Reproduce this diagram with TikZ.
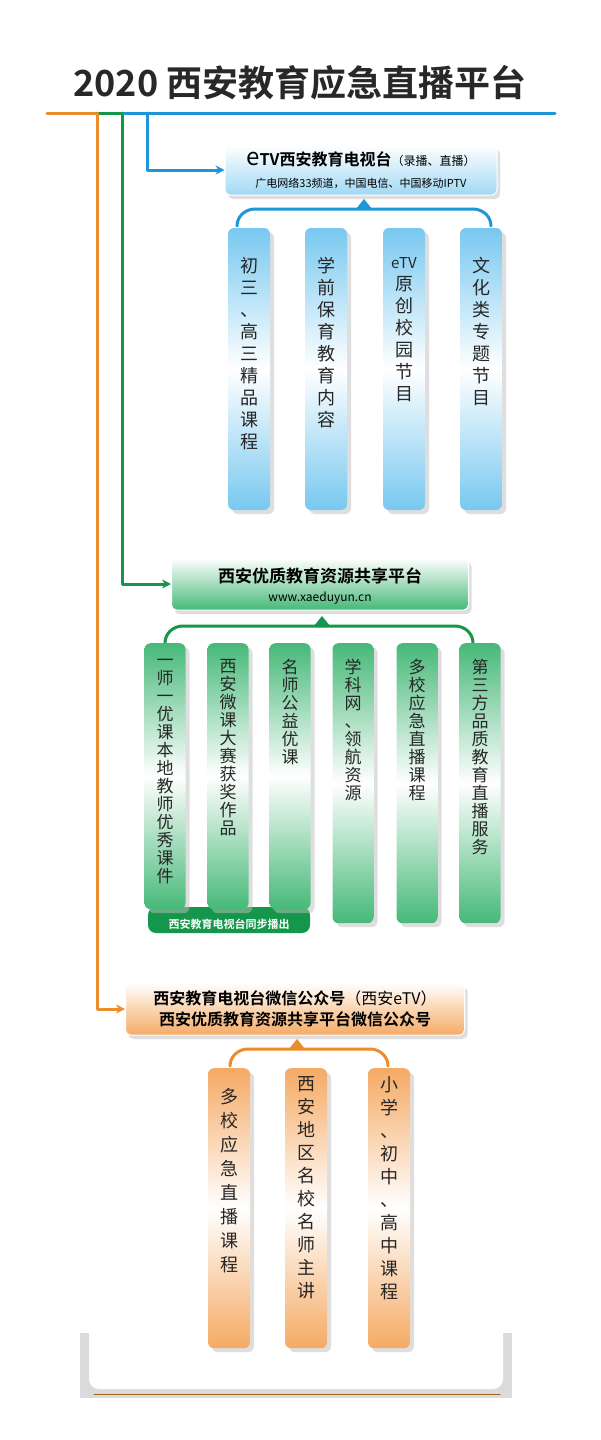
\documentclass[tikz,border=0pt]{standalone}
\usepackage{fontspec}
\setmainfont{Noto Sans CJK SC}[BoldFont={Noto Sans CJK SC Bold}]
\usetikzlibrary{arrows.meta,shadows,positioning}

\definecolor{tvblue}{RGB}{30,150,215}
\definecolor{lightblue}{RGB}{120,200,240}
\definecolor{resgreen}{RGB}{20,150,75}
\definecolor{lightgreen}{RGB}{70,185,120}
\definecolor{wxorange}{RGB}{235,140,45}
\definecolor{lightorange}{RGB}{245,170,100}
\definecolor{titlegray}{RGB}{40,40,40}

\tikzset{
  colbox/.style={rounded corners=6pt, minimum width=42pt, inner sep=0pt,
    drop shadow={shadow xshift=4pt, shadow yshift=-4pt, fill=black!25, opacity=.5}},
  headbox/.style={rounded corners=5pt, inner sep=0pt, draw=white, line width=1pt,
    drop shadow={shadow xshift=3pt, shadow yshift=-4pt, fill=black!25, opacity=.5}},
  coltext/.style={align=center, anchor=north, text=black!85}
}

\begin{document}
\begin{tikzpicture}[x=1pt, y=-1pt, >={Stealth[length=9pt,width=9pt]}, line cap=round, line join=round]

\useasboundingbox[fill=white] (0,0) rectangle (600,1440);

% --- Title ---
\node[font=\fontsize{36}{40}\selectfont\bfseries, text=titlegray] (title) at (300,83) {2020 西安教育应急直播平台};

% --- Bottom frame ---
\fill[black!14] (80,1333) rectangle (512,1398);
\fill[white, rounded corners=10pt] (89,1320) rectangle (503,1389);
\draw[line width=1pt, wxorange!70!black] (94,1394) -- (500,1394);

% --- Top rule ---
\draw[wxorange, line width=3pt] (47,113) -- (97,113);
\draw[resgreen, line width=3pt] (97,113) -- (122,113);
\draw[tvblue, line width=3pt] (122,113) -- (555,113);

% --- Headers ---
\node[headbox, minimum width=272pt, minimum height=50pt, top color=white, bottom color=lightblue!70] (htv) at (361,170) {};
\node[font=\fontsize{16}{18}\selectfont\bfseries] at (361,159) {{\mdseries\fontsize{24}{24}\selectfont e}TV西安教育电视台{\mdseries\fontsize{12}{12}\selectfont（录播、直播）}};
\node[font=\fontsize{11}{12}\selectfont] at (361,183) {广电网络33频道，中国电信、中国移动IPTV};

\node[headbox, minimum width=297pt, minimum height=52pt, top color=white, bottom color=lightgreen] (hres) at (320,584) {};
\node[font=\fontsize{17}{19}\selectfont\bfseries] at (320,576) {西安优质教育资源共享平台};
\node[font=\fontsize{12}{13}\selectfont] at (320,598) {www.xaeduyun.cn};

\node[headbox, minimum width=339pt, minimum height=52pt, top color=white, bottom color=lightorange] (hwx) at (295,1009) {};
\node[font=\fontsize{16}{21}\selectfont\bfseries, align=center] at (295,1009) {西安教育电视台微信公众号{\mdseries（西安eTV）}\\西安优质教育资源共享平台微信公众号};

% --- Feed lines ---
\draw[tvblue, line width=3pt, ->] (147,113) |- (htv.west);
\draw[resgreen, line width=3pt, ->] (122,113) |- (hres.west);
\draw[wxorange, line width=3pt, ->] (97,113) |- (hwx.west);

% --- Brackets ---
\draw[tvblue, line width=3pt] (237,226) to[out=90,in=180] (255,209) -- (473,209) to[out=0,in=90] (491,226);
\fill[tvblue] (356,209) -- (364,199) -- (372,209) -- cycle;
\draw[resgreen, line width=3pt] (165,643) to[out=90,in=180] (183,626) -- (455,626) to[out=0,in=90] (473,643);
\fill[resgreen] (314,626) -- (322,616) -- (330,626) -- cycle;
\draw[wxorange, line width=3pt] (230,1066) to[out=90,in=180] (248,1049) -- (370,1049) to[out=0,in=90] (388,1066);
\fill[wxorange] (289,1049) -- (297,1039) -- (305,1049) -- cycle;

% --- Blue columns ---
\foreach \x/\t [count=\i] in {249/{初\\三\\、\\高\\三\\精\\品\\课\\程},
    326/{学\\前\\保\\育\\教\\育\\内\\容},
    404/{{\fontsize{15}{15}\selectfont eTV}\\原\\创\\校\\园\\节\\目},
    481/{文\\化\\类\\专\\题\\节\\目}} {
  \node[colbox, minimum height=282pt, top color=lightblue, bottom color=lightblue, middle color=white] (tv\i) at (\x,369) {};
  \node[coltext, font=\fontsize{18}{22}\selectfont] at (\x,254) {\t};
}

% --- Green columns ---
\node[fill=resgreen, rounded corners=8pt, minimum width=162pt, minimum height=26pt] (sync) at (229,920) {};
\node[font=\fontsize{11}{12}\selectfont\bfseries, text=white] at (229,924) {西安教育电视台同步播出};
\foreach \x/\h/\t [count=\i] in {165/266/{一\\师\\一\\优\\课\\本\\地\\教\\师\\优\\秀\\课\\件},
    228/266/{西\\安\\微\\课\\大\\赛\\获\\奖\\作\\品},
    290/266/{名\\师\\公\\益\\优\\课},
    353/280/{学\\科\\网\\、\\领\\航\\资\\源},
    417/280/{多\\校\\应\\急\\直\\播\\课\\程},
    480/280/{第\\三\\方\\品\\质\\教\\育\\直\\播\\服\\务}} {
  \node[colbox, anchor=north, minimum width=41pt, minimum height=\h pt, top color=lightgreen, bottom color=lightgreen, middle color=white] (res\i) at (\x,643) {};
  \node[coltext, font=\fontsize{17}{18}\selectfont] at (\x,656) {\t};
}

% --- Orange columns ---
\foreach \x/\s/\y/\t [count=\i] in {229/24/1085/{多\\校\\应\\急\\直\\播\\课\\程},
    306/23/1073/{西\\安\\地\\区\\名\\校\\名\\师\\主\\讲},
    389/23/1073/{小\\学\\、\\初\\中\\、\\高\\中\\课\\程}} {
  \node[colbox, anchor=north, minimum height=280pt, top color=lightorange, bottom color=lightorange, middle color=white] (wx\i) at (\x,1068) {};
  \node[coltext, font=\fontsize{18}{\s}\selectfont] at (\x,\y) {\t};
}

\end{tikzpicture}
\end{document}
